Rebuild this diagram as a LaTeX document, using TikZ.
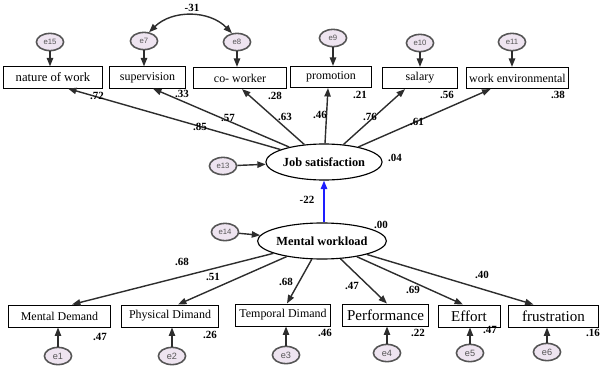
\documentclass[tikz,border=0pt]{standalone}
\usepackage{fontspec}
\setmainfont{Liberation Serif}
\newfontfamily\errfont{Liberation Sans}
\usetikzlibrary{calc}
\usetikzlibrary{arrows.meta}
\usetikzlibrary{shapes.geometric}
\definecolor{errfill}{RGB}{238,228,240}
\definecolor{errline}{RGB}{85,85,85}
\definecolor{pathline}{RGB}{45,45,45}
\definecolor{blue}{RGB}{30,30,255}

\begin{document}
\begin{tikzpicture}[x=0.025cm, y=-0.025cm,
    >={Triangle[length=6pt,width=4.5pt]},
    obs/.style={draw, line width=0.7pt, inner sep=0pt, minimum height=0.53cm, font=\fontsize{8.5}{10}\selectfont},
    big/.style={font=\fontsize{10.7}{12}\selectfont},
    lat/.style={ellipse, draw, line width=0.8pt, inner sep=0pt, minimum width=2.85cm, minimum height=0.9cm, font=\fontsize{8.8}{10}\selectfont\bfseries},
    err/.style={ellipse, draw=errline, fill=errfill, line width=1.1pt, inner sep=0pt, minimum width=0.68cm, minimum height=0.43cm, text=errline, font=\errfont\fontsize{5.5}{6}\selectfont},
    path/.style={->, line width=1pt, draw=pathline},
    coef/.style={inner sep=0pt, font=\fontsize{7.8}{9}\selectfont\bfseries}]
    \useasboundingbox (0,0) rectangle (601,369);

    \node[obs, minimum width=2.45cm, font=\fontsize{9}{11}\selectfont] (now) at (53,77.5) {nature of work};
    \node[obs, minimum width=1.875cm] (sup) at (147.5,77.5) {supervision};
    \node[obs, minimum width=2.3cm] (cow) at (240,78) {co- worker};
    \node[obs, minimum width=2.0cm] (pro) at (331,77) {promotion};
    \node[obs, minimum width=1.85cm] (sal) at (420,78) {salary};
    \node[obs, minimum width=2.525cm] (env) at (517.5,78) {work environmental};

    \node[err] (e15) at (50,42) {e15};
    \node[err] (e7) at (144,41) {e7};
    \node[err] (e8) at (237,42) {e8};
    \node[err] (e9) at (333,38) {e9};
    \node[err] (e10) at (420,43) {e10};
    \node[err] (e11) at (512,42) {e11};
    \foreach \e/\b in {e15/now, e7/sup, e8/cow, e9/pro, e10/sal, e11/env}
        \draw[path] (\e) -- (\e |- \b.north);
    \draw[path, <->] (e7.60) to[bend left=45] (e8.120);
    \node[coef] (c31) at (192,8) {-31};

    \node[lat] (js) at (324,162) {Job satisfaction};
    \node[lat] (mw) at (322,241) {Mental workload};
    \node[err] (e13) at (223,166) {e13};
    \node[err] (e14) at (225,232) {e14};
    \draw[path] (e13) -- (js);
    \draw[path] (e14) -- (mw);
    \draw[path, draw=blue] (js.south |- mw.north) -- (js.south);

    \draw[path] (js) -- ($(now.south)+(15,0)$);
    \draw[path] (js) -- ($(sup.south)+(5.5,0)$);
    \draw[path] (js) -- ($(cow.south)+(2,0)$);
    \draw[path] (js) -- ($(pro.south)+(-3,0)$);
    \draw[path] (js) -- ($(sal.south)+(-15,0)$);
    \draw[path] (js) -- ($(env.south)+(-27,0)$);

    \node[obs, minimum width=2.525cm, minimum height=0.55cm] (md) at (59.5,316) {Mental Demand};
    \node[obs, minimum width=2.4cm, minimum height=0.55cm] (pd) at (170,316) {Physical Dimand};
    \node[obs, minimum width=2.35cm, minimum height=0.55cm] (td) at (283,315) {Temporal Dimand};
    \node[obs, big, minimum width=2.125cm, minimum height=0.55cm] (perf) at (385.5,315) {Performance};
    \node[obs, big, minimum width=1.55cm, minimum height=0.55cm] (eff) at (469,316) {Effort};
    \node[obs, big, minimum width=2.225cm, minimum height=0.55cm] (fru) at (553.5,316) {frustration};

    \draw[path] (mw) -- ($(md.north)+(12.5,0)$);
    \draw[path] (mw) -- ($(pd.north)+(8,0)$);
    \draw[path] (mw) -- ($(td.north)+(4,0)$);
    \draw[path] (mw) -- ($(perf.north)+(1.5,0)$);
    \draw[path] (mw) -- ($(eff.north)+(-6,0)$);
    \draw[path] (mw) -- ($(fru.north)+(-20,0)$);

    \node[err, font=\errfont\fontsize{6.5}{7}\selectfont] (e1) at (58,356) {e1};
    \node[err, font=\errfont\fontsize{6.5}{7}\selectfont] (e2) at (172,356) {e2};
    \node[err, font=\errfont\fontsize{6.5}{7}\selectfont] (e3) at (286,355) {e3};
    \node[err, font=\errfont\fontsize{6.5}{7}\selectfont] (e4) at (387,353) {e4};
    \node[err, font=\errfont\fontsize{6.5}{7}\selectfont] (e5) at (470,353) {e5};
    \node[err, font=\errfont\fontsize{6.5}{7}\selectfont] (e6) at (547,352) {e6};
    \foreach \e/\b in {e1/md, e2/pd, e3/td, e4/perf, e5/eff, e6/fru}
        \draw[path] (\e) -- (\e |- \b.south);

    \node[coef] (r1) at (97,96) {.72};
    \node[coef] (r2) at (182,94) {.33};
    \node[coef] (r3) at (275,96) {.28};
    \node[coef] (r4) at (360,95) {.21};
    \node[coef] (r5) at (447,95) {.56};
    \node[coef] (r6) at (558,95) {.38};
    \node[coef] (l1) at (200,127) {.85};
    \node[coef] (l2) at (228,118) {.57};
    \node[coef] (l3) at (285,117) {.63};
    \node[coef] (l4) at (320,115) {.46};
    \node[coef] (l5) at (370,117) {.76};
    \node[coef] (l6) at (417,122) {.61};
    \node[coef] (rjs) at (395,158) {.04};
    \node[coef] (bjm) at (307,200) {-22};
    \node[coef] (rmw) at (381,225) {.00};
    \node[coef] (m1) at (182,262) {.68};
    \node[coef] (m2) at (213,277) {.51};
    \node[coef] (m3) at (286,282) {.68};
    \node[coef] (m4) at (352,286) {.47};
    \node[coef] (m5) at (413,290) {.69};
    \node[coef] (m6) at (482,275) {.40};
    \node[coef] (s1) at (100,337) {.47};
    \node[coef] (s2) at (210,335) {.26};
    \node[coef] (s3) at (325,333) {.46};
    \node[coef] (s4) at (418,333) {.22};
    \node[coef] (s5) at (490,330) {.47};
    \node[coef] (s6) at (593,333) {.16};
\end{tikzpicture}
\end{document}
